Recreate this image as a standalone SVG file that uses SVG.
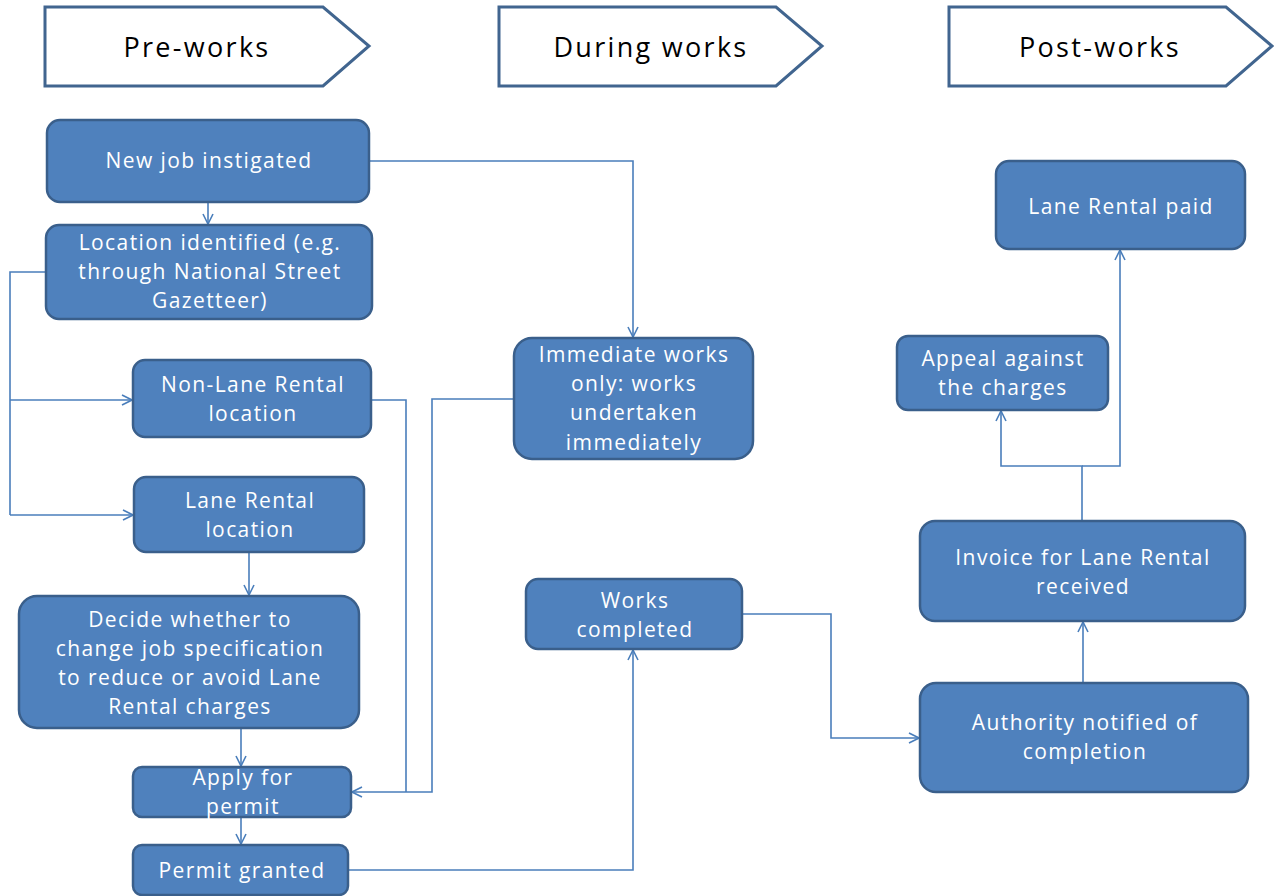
<svg xmlns="http://www.w3.org/2000/svg" width="1274" height="896" viewBox="0 0 1274 896">
<defs>
<style>
.hdr{fill:#fff;stroke:#41658f;stroke-width:3}
.ht{font-family:"Open Sans","Liberation Sans",sans-serif;font-size:27px;letter-spacing:2.3px;fill:#000;text-anchor:middle}
.box{fill:#4f81bd;stroke:#3a5f8b;stroke-width:2.5}
.bt{font-family:"Open Sans","Liberation Sans",sans-serif;font-size:21px;letter-spacing:1.4px;fill:#fff;text-anchor:middle}
.c{fill:none;stroke:#4a7ebb;stroke-width:1.6}
</style>
<marker id="a" viewBox="0 0 12 12" refX="11" refY="6" markerWidth="12" markerHeight="12" markerUnits="userSpaceOnUse" orient="auto">
<path d="M1,1 L11,6 L1,11" fill="none" stroke="#4a7ebb" stroke-width="1.6"/>
</marker>
</defs>
<rect width="1274" height="896" fill="#fff"/>
<g id="hdr-pre"><path class="hdr" d="M45,7 H323 L369,46 L323,86 H45 Z"/><text class="ht" x="197" y="57">Pre-works</text></g>
<g id="hdr-during"><path class="hdr" d="M499,7 H776 L822,46 L776,86 H499 Z"/><text class="ht" x="651" y="57">During works</text></g>
<g id="hdr-post"><path class="hdr" d="M949,7 H1226 L1272,46 L1226,86 H949 Z"/><text class="ht" x="1100" y="57">Post-works</text></g>

<g id="connectors">
<path class="c" d="M208,203 V224" marker-end="url(#a)"/>
<path class="c" d="M369,161 H633 V337" marker-end="url(#a)"/>
<path class="c" d="M46,272 H10 V515"/>
<path class="c" d="M10,400 H132" marker-end="url(#a)"/>
<path class="c" d="M10,515 H133" marker-end="url(#a)"/>
<path class="c" d="M371,400 H406 V792"/>
<path class="c" d="M514,399 H432 V792 H352" marker-end="url(#a)"/>
<path class="c" d="M249,552 V595" marker-end="url(#a)"/>
<path class="c" d="M241,728 V766" marker-end="url(#a)"/>
<path class="c" d="M241,817 V844" marker-end="url(#a)"/>
<path class="c" d="M348,870 H633 V650" marker-end="url(#a)"/>
<path class="c" d="M742,614 H831 V738 H919" marker-end="url(#a)"/>
<path class="c" d="M1083,683 V622" marker-end="url(#a)"/>
<path class="c" d="M1082,521 V466 H1001 V411" marker-end="url(#a)"/>
<path class="c" d="M1082,466 H1120 V250" marker-end="url(#a)"/>
</g>

<g id="n-newjob"><rect class="box" x="47" y="120" width="322" height="82" rx="13"/><text class="bt" x="209" y="168">New job instigated</text></g>
<g id="n-location"><rect class="box" x="46" y="225" width="326" height="94" rx="13"/><text class="bt"><tspan x="210" y="250">Location identified (e.g.</tspan><tspan x="210" y="279">through National Street</tspan><tspan x="210" y="308">Gazetteer)</tspan></text></g>
<g id="n-nonlane"><rect class="box" x="133" y="360" width="238" height="77" rx="12"/><text class="bt"><tspan x="253" y="392">Non-Lane Rental</tspan><tspan x="253" y="421">location</tspan></text></g>
<g id="n-lane"><rect class="box" x="134" y="477" width="230" height="75" rx="12"/><text class="bt"><tspan x="250" y="508">Lane Rental</tspan><tspan x="250" y="537">location</tspan></text></g>
<g id="n-decide"><rect class="box" x="19" y="596" width="340" height="132" rx="18"/><text class="bt"><tspan x="190" y="627">Decide whether to</tspan><tspan x="190" y="656">change job specification</tspan><tspan x="190" y="685">to reduce or avoid Lane</tspan><tspan x="190" y="714">Rental charges</tspan></text></g>
<g id="n-apply"><rect class="box" x="133" y="767" width="218" height="50" rx="9"/><text class="bt"><tspan x="243" y="785">Apply for</tspan><tspan x="243" y="814">permit</tspan></text></g>
<g id="n-permit"><rect class="box" x="133" y="845" width="215" height="50" rx="9"/><text class="bt" x="242" y="878">Permit granted</text></g>
<g id="n-immediate"><rect class="box" x="514" y="338" width="239" height="121" rx="18"/><text class="bt"><tspan x="634" y="362">Immediate works</tspan><tspan x="634" y="391">only: works</tspan><tspan x="634" y="420">undertaken</tspan><tspan x="634" y="450">immediately</tspan></text></g>
<g id="n-completed"><rect class="box" x="526" y="579" width="216" height="70" rx="12"/><text class="bt"><tspan x="635" y="608">Works</tspan><tspan x="635" y="637">completed</tspan></text></g>
<g id="n-paid"><rect class="box" x="996" y="161" width="249" height="88" rx="13"/><text class="bt" x="1121" y="214">Lane Rental paid</text></g>
<g id="n-appeal"><rect class="box" x="897" y="336" width="211" height="74" rx="11"/><text class="bt"><tspan x="1003" y="366">Appeal against</tspan><tspan x="1003" y="395">the charges</tspan></text></g>
<g id="n-invoice"><rect class="box" x="920" y="521" width="325" height="100" rx="15"/><text class="bt"><tspan x="1083" y="565">Invoice for Lane Rental</tspan><tspan x="1083" y="594">received</tspan></text></g>
<g id="n-authority"><rect class="box" x="920" y="683" width="328" height="109" rx="16"/><text class="bt"><tspan x="1085" y="730">Authority notified of</tspan><tspan x="1085" y="759">completion</tspan></text></g>
</svg>
